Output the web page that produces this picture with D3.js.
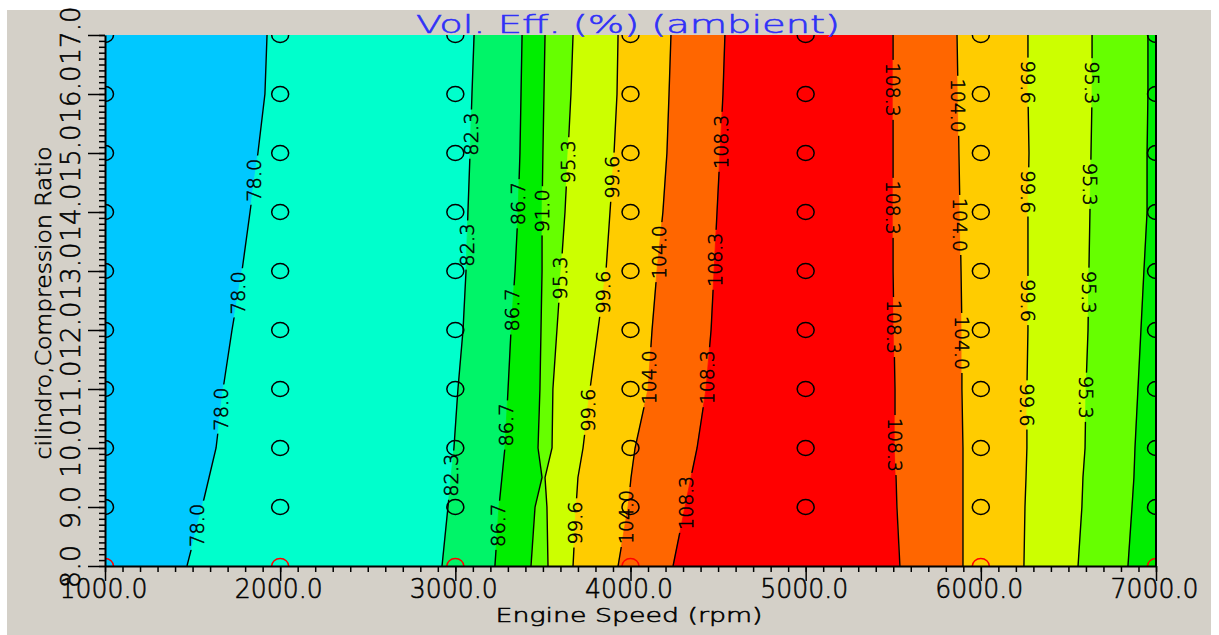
<!DOCTYPE html>
<html>
<head>
<meta charset="utf-8">
<script src="https://cdn.jsdelivr.net/npm/d3@7"></script>
<style>
html, body { margin: 0; padding: 0; background: #fff; }
svg { display: block; }
text { font-family: "DejaVu Sans", sans-serif; font-weight: 200; stroke-width: 0.55; }
</style>
</head>
<body>
<div id="chart"></div>
<script>
// compression ratio rows at which the contour crossings were read
const crRows = [8, 9, 9.5, 10, 11, 12, 13, 14, 15, 16, 17];

// engine speed (rpm) where each contour crosses a row, left to right across the map
const rpm780 = [1468, 1554, 1594, 1634, 1674, 1725, 1782, 1828, 1873, 1913, 1925];
const rpm823 = [2924, 2958, 2975, 2992, 3015, 3044, 3061, 3072, 3084, 3095, 3107];
const rpm867 = [3226, 3249, 3266, 3283, 3301, 3318, 3341, 3358, 3369, 3375, 3381];
const rpm910 = [3432, 3455, 3495, 3472, 3483, 3489, 3495, 3495, 3500, 3506, 3512];
const rpm953 = [3529, 3523, 3512, 3552, 3557, 3580, 3603, 3626, 3643, 3660, 3672];
const rpm996 = [3672, 3689, 3700, 3729, 3769, 3814, 3860, 3883, 3906, 3923, 3929];
const rpm1040 = [3929, 3986, 4003, 4026, 4100, 4123, 4151, 4185, 4208, 4220, 4231];
const rpm1083 = [4243, 4311, 4345, 4380, 4431, 4460, 4477, 4494, 4511, 4528, 4539];
const rpm1083b = [5538, 5521, 5516, 5510, 5510, 5504, 5499, 5499, 5499, 5499, 5499];
const rpm1040b = [5898, 5898, 5898, 5898, 5892, 5892, 5887, 5881, 5875, 5870, 5864];
const rpm996b = [6246, 6252, 6258, 6263, 6263, 6269, 6269, 6269, 6275, 6269, 6269];
const rpm953b = [6555, 6577, 6583, 6595, 6600, 6612, 6617, 6623, 6629, 6635, 6635];
const rpm910b = [6840, 6863, 6874, 6880, 6897, 6914, 6931, 6949, 6949, 6954, 6954];

const contourLevels = [78.0, 82.3, 86.7, 91.0, 95.3, 99.6, 104.0, 108.3, 108.3, 104.0, 99.6, 95.3, 91.0];

// compression ratios where each contour carries a value label
const labelRows = [
  [14.54, 12.63, 10.66, 8.69],
  [15.32, 13.44, 9.54],
  [14.14, 12.34, 10.39, 8.69],
  [14.02],
  [14.85, 12.88],
  [14.59, 12.64, 10.64, 8.73],
  [13.32, 11.2, 8.83],
  [15.19, 13.19, 11.2, 9.07],
  [16.07, 14.07, 12.05, 10.05],
  [15.8, 13.78, 11.78],
  [16.2, 14.34, 12.5, 10.73],
  [16.19, 14.47, 12.64, 10.86],
  []
];

const bandColors = ["#00c8ff", "#00ffcc", "#00f468", "#00ee00", "#66ff00", "#ccff00",
  "#ffcc00", "#ff6600", "#ff0000", "#ff6600", "#ffcc00", "#ccff00", "#66ff00", "#00ee00"];

const speedTicks = [1000, 2000, 3000, 4000, 5000, 6000, 7000];
const ratioTicks = [8, 9, 10, 11, 12, 13, 14, 15, 16, 17];
const gridSpeeds = [1000, 2000, 3000, 4000, 5000, 6000, 7000];
const gridRatios = [8, 9, 10, 11, 12, 13, 14, 15, 16, 17];

const width = 1219, height = 635;
const plotLeft = 105, plotRight = 1156, plotTop = 35, plotBottom = 566;

const svg = d3.select("#chart").append("svg")
  .attr("width", width)
  .attr("height", height);

svg.append("rect")
  .attr("x", 7).attr("y", 10)
  .attr("width", 1204).attr("height", 625)
  .attr("fill", "#d4d0c8");

const x = d3.scaleLinear().domain([1000, 7000]).range([plotLeft, plotRight]);
const y = d3.scaleLinear().domain([8, 17]).range([plotBottom, plotTop]);

const contourRpms = [rpm780, rpm823, rpm867, rpm910, rpm953, rpm996, rpm1040, rpm1083,
  rpm1083b, rpm1040b, rpm996b, rpm953b, rpm910b];

const contours = contourRpms.map((rpms, i) => ({
  rpms,
  level: contourLevels[i],
  labels: labelRows[i],
  angle: i <= 7 ? -90 : 90
}));

const defs = svg.append("defs");
defs.append("clipPath").attr("id", "plotclip")
  .append("rect")
  .attr("x", plotLeft).attr("y", plotTop)
  .attr("width", plotRight - plotLeft).attr("height", plotBottom - plotTop);

const plot = svg.append("g").attr("clip-path", "url(#plotclip)");

// filled bands between neighbouring contours
const edgeLeft = crRows.map(() => 1000);
const edgeRight = crRows.map(() => 7000);
const bounds = [edgeLeft, ...contourRpms, edgeRight];
const idx = d3.range(crRows.length);

bandColors.forEach((color, i) => {
  const band = d3.area()
    .x0(j => x(bounds[i][j]))
    .x1(j => x(bounds[i + 1][j]))
    .y(j => y(crRows[j]));
  plot.append("path")
    .datum(idx)
    .attr("d", band)
    .attr("fill", color)
    .attr("stroke", color)
    .attr("stroke-width", 0.8);
});

// label positions
const labelData = [];
contours.forEach(c => {
  const at = d3.scaleLinear().domain(crRows).range(c.rpms);
  const txt = c.level.toFixed(1);
  c.labels.forEach(cr => {
    labelData.push({
      cx: x(at(cr)),
      cy: y(cr),
      text: txt,
      len: txt.length * 10.8,
      angle: c.angle
    });
  });
});

const mask = defs.append("mask").attr("id", "labelmask");
mask.append("rect")
  .attr("x", 0).attr("y", 0)
  .attr("width", width).attr("height", height)
  .attr("fill", "white");
mask.selectAll("rect.gap")
  .data(labelData)
  .join("rect")
  .attr("class", "gap")
  .attr("x", d => d.cx - 9)
  .attr("y", d => d.cy - d.len / 2 - 3)
  .attr("width", 18)
  .attr("height", d => d.len + 6)
  .attr("fill", "black");

const line = rpms => d3.line()
  .x(j => x(rpms[j]))
  .y(j => y(crRows[j]))(idx);

plot.append("g")
  .attr("mask", "url(#labelmask)")
  .selectAll("path")
  .data(contours)
  .join("path")
  .attr("d", d => line(d.rpms))
  .attr("fill", "none")
  .attr("stroke", "#000")
  .attr("stroke-width", 1.4);

plot.append("g")
  .selectAll("text")
  .data(labelData)
  .join("text")
  .attr("transform", d => `translate(${d.cx},${d.cy}) rotate(${d.angle})`)
  .attr("text-anchor", "middle")
  .attr("dominant-baseline", "central")
  .attr("font-size", 20)
  .attr("textLength", d => d.len)
  .attr("lengthAdjust", "spacingAndGlyphs")
  .attr("fill", "#000")
  .attr("stroke", "#000")
  .text(d => d.text);

// data point markers
const points = [];
gridRatios.forEach(cr => gridSpeeds.forEach(rpm => points.push({ rpm, cr })));

plot.append("g")
  .selectAll("ellipse")
  .data(points)
  .join("ellipse")
  .attr("cx", d => x(d.rpm))
  .attr("cy", d => y(d.cr))
  .attr("rx", 8.5)
  .attr("ry", 7.5)
  .attr("fill", "none")
  .attr("stroke", d => d.cr === 8 ? "#ff0000" : "#000")
  .attr("stroke-width", 1.5);

// axes
const styleAxis = g => {
  g.attr("font-family", null).attr("font-size", null);
  g.selectAll("line").attr("stroke", "#000").attr("stroke-width", 1.5);
  g.select(".domain").attr("stroke", "#000").attr("stroke-width", 2);
};

svg.append("g")
  .attr("transform", `translate(0,${plotBottom})`)
  .call(d3.axisBottom(x).tickValues(d3.range(1000, 7001, 100)).tickSize(6).tickFormat(""))
  .call(g => g.select(".domain").remove())
  .call(styleAxis);

svg.append("g")
  .attr("transform", `translate(${plotLeft},0)`)
  .call(d3.axisLeft(y).tickValues(d3.range(80, 171, 1).map(v => v / 10)).tickSize(6).tickFormat(""))
  .call(g => g.select(".domain").remove())
  .call(styleAxis);

svg.append("g")
  .attr("transform", `translate(0,${plotBottom})`)
  .call(d3.axisBottom(x).tickValues(speedTicks).tickFormat(d3.format(".1f")).tickSize(15).tickSizeOuter(0))
  .call(styleAxis)
  .call(g => g.selectAll("text")
    .attr("y", 32).attr("dy", null).attr("dx", -2)
    .attr("font-size", 26)
    .attr("fill", "#000")
    .attr("stroke", "#000")
    .attr("textLength", 88)
    .attr("lengthAdjust", "spacingAndGlyphs"));

svg.append("g")
  .attr("transform", `translate(${plotLeft},0)`)
  .call(d3.axisLeft(y).tickValues(ratioTicks).tickFormat(d3.format(".1f")).tickSize(17).tickSizeOuter(0))
  .call(styleAxis)
  .call(g => g.selectAll("text")
    .attr("x", null).attr("dy", null)
    .attr("transform", "translate(-25,0) rotate(-90)")
    .attr("text-anchor", "middle")
    .attr("font-size", 26)
    .attr("fill", "#000")
    .attr("stroke", "#000")
    .attr("textLength", d => d3.format(".1f")(d).length * 14.5)
    .attr("lengthAdjust", "spacingAndGlyphs"));

// right frame edge
svg.append("line")
  .attr("x1", plotRight).attr("x2", plotRight)
  .attr("y1", plotTop).attr("y2", plotBottom)
  .attr("stroke", "#000")
  .attr("stroke-width", 2);

// titles
svg.append("text")
  .attr("x", 628).attr("y", 33)
  .attr("text-anchor", "middle")
  .attr("font-size", 25)
  .attr("fill", "#3030f8")
  .attr("stroke", "#3030f8")
  .attr("textLength", 424)
  .attr("lengthAdjust", "spacingAndGlyphs")
  .text("Vol. Eff. (%) (ambient)");

svg.append("text")
  .attr("x", 629).attr("y", 622)
  .attr("text-anchor", "middle")
  .attr("font-size", 20)
  .attr("fill", "#000")
  .attr("stroke", "#000")
  .attr("textLength", 267)
  .attr("lengthAdjust", "spacingAndGlyphs")
  .text("Engine Speed (rpm)");

svg.append("text")
  .attr("transform", "translate(51,303) rotate(-90)")
  .attr("text-anchor", "middle")
  .attr("font-size", 21)
  .attr("fill", "#000")
  .attr("stroke", "#000")
  .attr("textLength", 313)
  .attr("lengthAdjust", "spacingAndGlyphs")
  .text("cilindro,Compression Ratio");
</script>
</body>
</html>
